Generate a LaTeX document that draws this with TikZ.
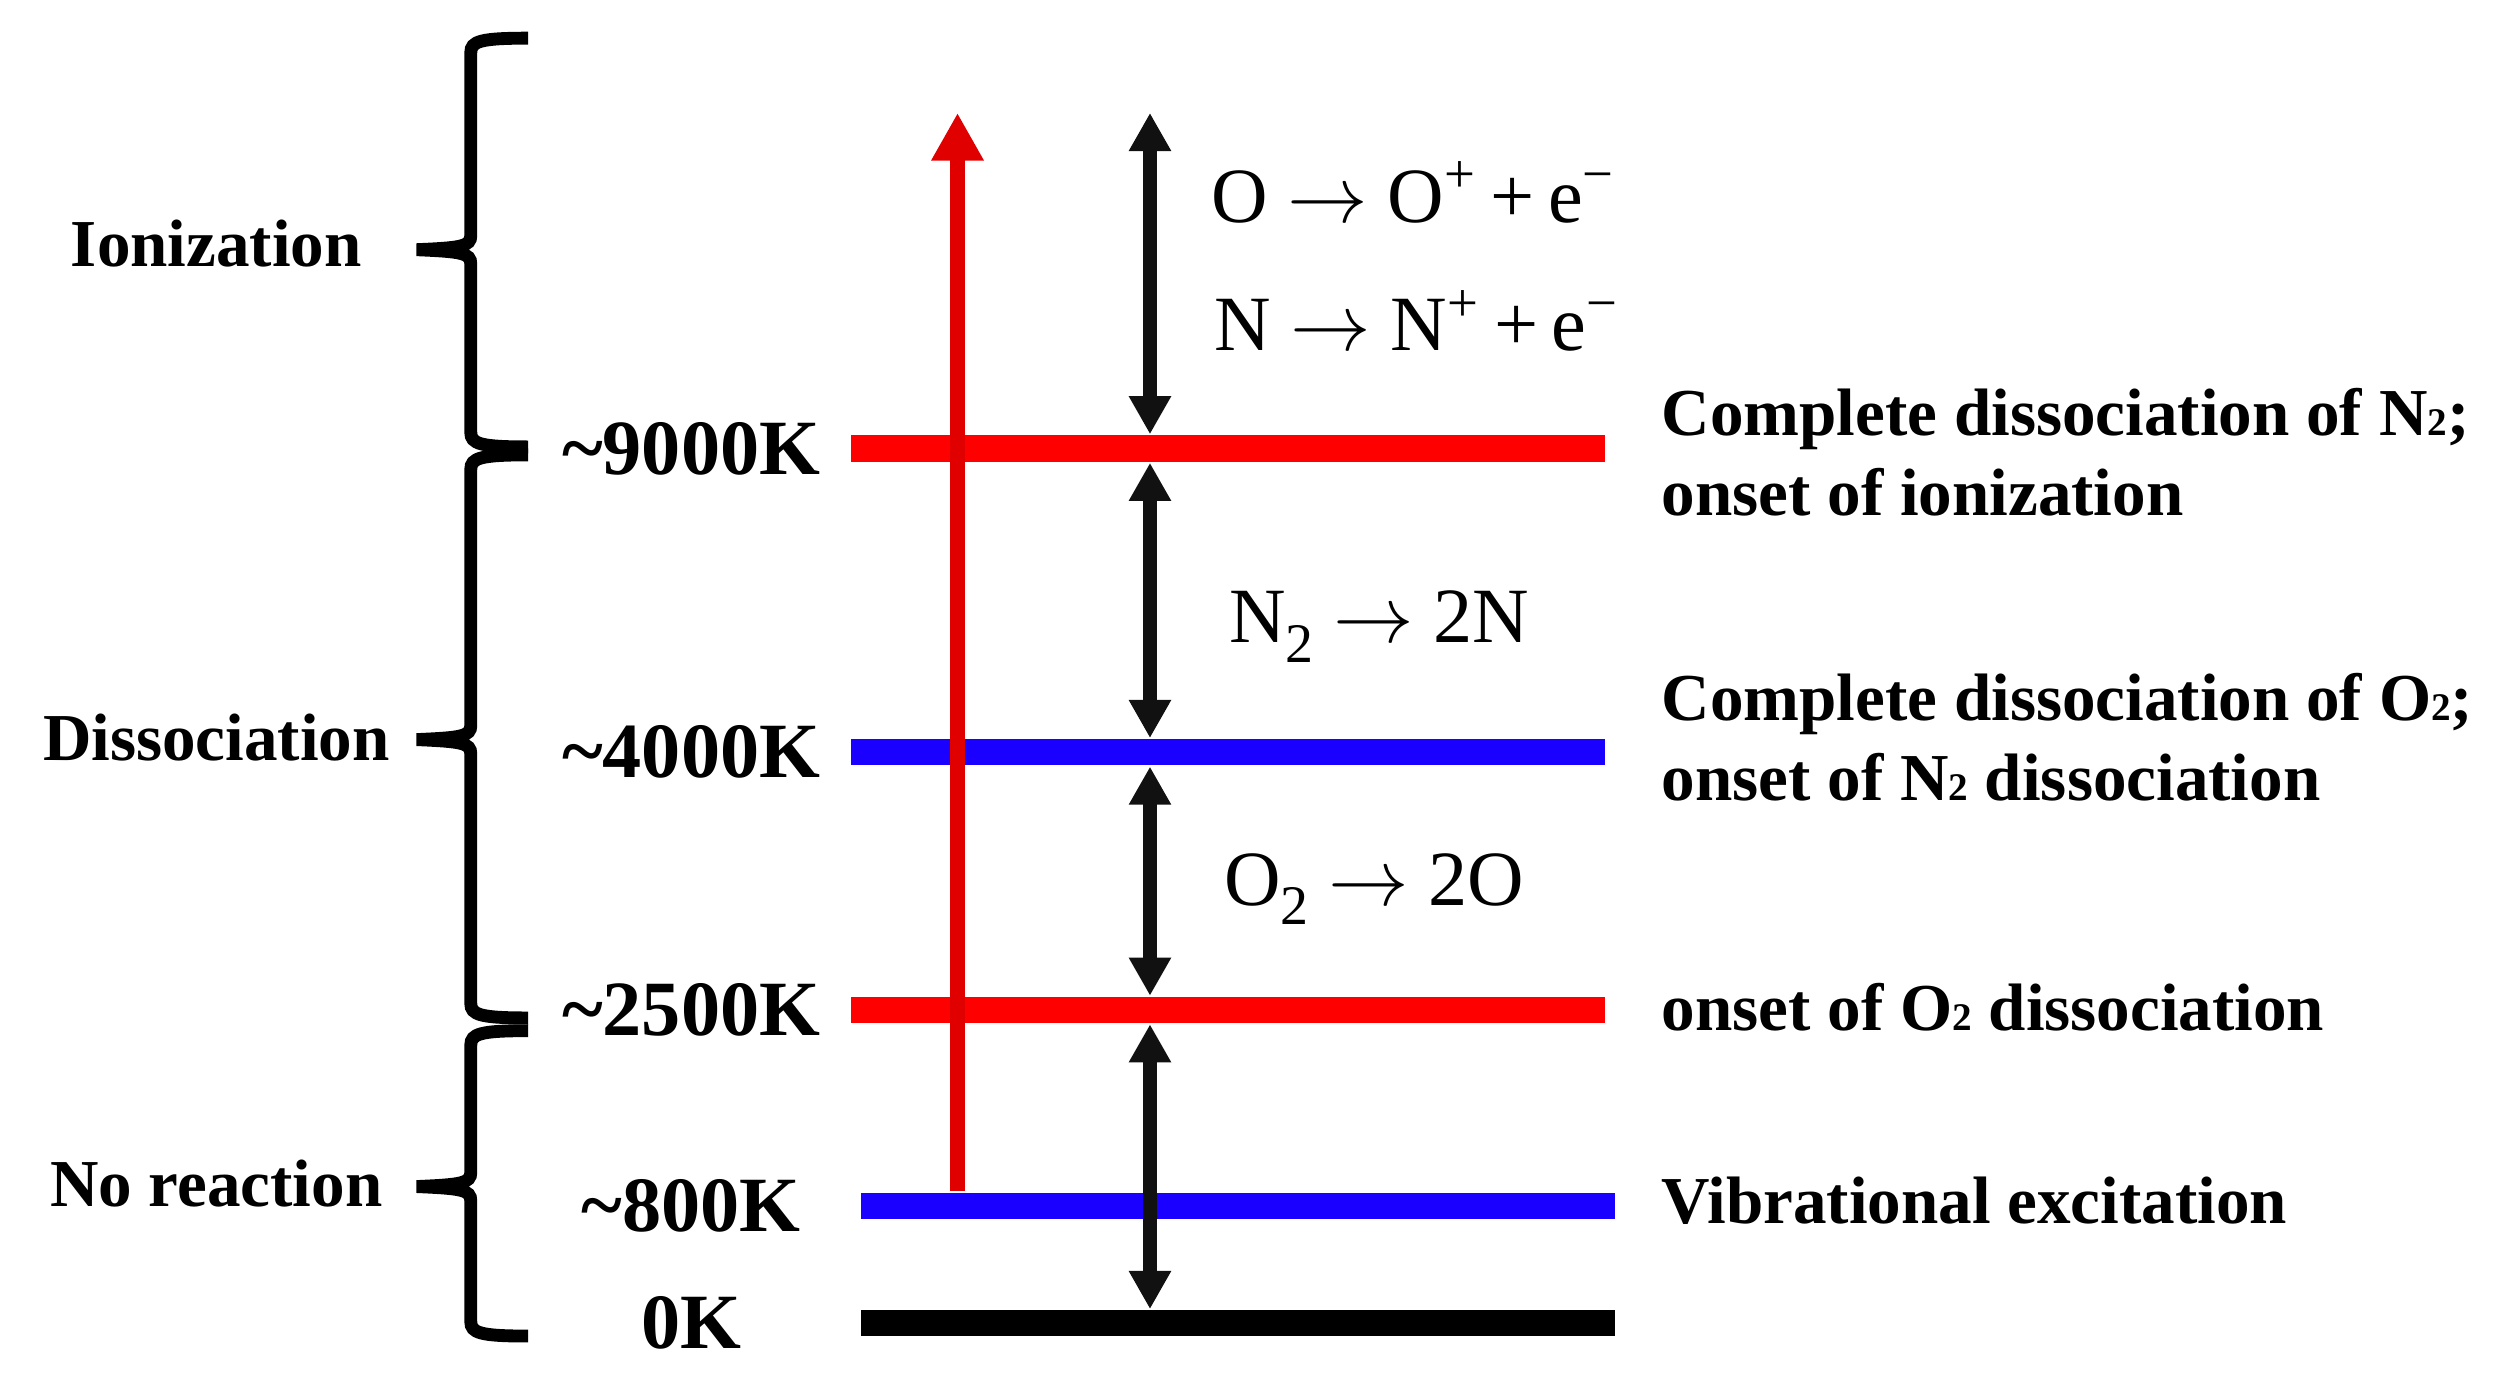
\documentclass[tikz,border=0pt]{standalone}
\usepackage{fontspec}
\setmainfont{Liberation Serif}
\usetikzlibrary{arrows.meta}

\definecolor{lvlred}{RGB}{255,0,0}
\definecolor{lvlblue}{RGB}{25,0,255}
\definecolor{jumpred}{RGB}{224,0,0}
\definecolor{arrowblack}{RGB}{17,17,17}

\newcommand{\lowtwo}{{\fontsize{7}{7}\selectfont 2}}
\newcommand{\rxnto}{$\rightarrow$}
\newcommand{\groupbrace}[3]{%
  \draw[bracepen] (3.32,#1) .. controls (3.02,#1) and (2.96,#1-0.02) .. (2.96,#1-0.09)
    -- (2.96,#2+0.09) .. controls (2.96,#2+0.02) and (2.90,#2+0.012) .. (2.62,#2)
    .. controls (2.90,#2-0.012) and (2.96,#2-0.02) .. (2.96,#2-0.09)
    -- (2.96,#3+0.09) .. controls (2.96,#3+0.02) and (3.02,#3) .. (3.32,#3);
}

\begin{document}
\begin{tikzpicture}[
    bar/.style={inner sep=0, minimum height=0.165cm, minimum width=4.74cm},
    temp/.style={inner sep=0, font=\fontsize{14}{16.8}\selectfont\bfseries},
    grp/.style={inner sep=0, anchor=base, font=\fontsize{12}{14.3}\selectfont\bfseries},
    note/.style={inner sep=0, anchor=base west, align=left, font=\fontsize{12}{14.3}\selectfont\bfseries},
    rxn/.style={inner sep=0, anchor=base west, font=\fontsize{14}{16.8}\selectfont},
    bracepen/.style={line width=2.3pt, line cap=butt},
    dblarrow/.style={draw=arrowblack, line width=2.6pt,
        {Triangle[length=2.4mm,width=2.5mm]}-{Triangle[length=2.4mm,width=2.5mm]}},
    jump/.style={draw=jumpred, line width=2.7pt, -{Triangle[length=3mm,width=3.1mm]}}
]

        \useasboundingbox (0,0) rectangle (15.68,8.72);

        \node[bar, fill=lvlred] (k9000) at (7.72,5.90) {};
        \node[bar, fill=lvlblue] (k4000) at (7.72,3.99) {};
        \node[bar, fill=lvlred] (k2500) at (7.72,2.37) {};
        \node[bar, fill=lvlblue] (k800) at (7.785,1.14) {};
        \node[bar, fill=black] (k0) at (7.785,0.40) {};

        \node[temp] (t9000) at (4.345,5.90) {\textasciitilde9000K};
        \node[temp] (t4000) at (4.345,3.99) {\textasciitilde4000K};
        \node[temp] (t2500) at (4.345,2.37) {\textasciitilde2500K};
        \node[temp] (t800) at (4.345,1.14) {\textasciitilde800K};
        \node[temp] (t0) at (4.345,0.40) {0K};

        \coordinate (redtop) at (6.02,8.01);
        \coordinate (ax) at (7.23,8.01);

        \draw[jump] (k800.north -| redtop) -- (redtop);

        \draw[dblarrow] (ax) -- (k9000.north -| ax);
        \draw[dblarrow] (k9000.south -| ax) -- (k4000.north -| ax);
        \draw[dblarrow] (k4000.south -| ax) -- (k2500.north -| ax);
        \draw[dblarrow] (k2500.south -| ax) -- (k0.north -| ax);

        \node[rxn] (ion1) at (7.61,7.324) {O \rxnto{} O\textsuperscript{+}\,+\,e\textsuperscript{−}};
        \node[rxn] (ion2) at (7.63,6.516) {N \rxnto{} N\textsuperscript{+}\,+\,e\textsuperscript{−}};
        \node[rxn] (dis1) at (7.72,4.68) {N\raisebox{-0.55ex}{\fontsize{10}{10}\selectfont 2} \rxnto{} 2N};
        \node[rxn] (dis2) at (7.69,3.03) {O\raisebox{-0.55ex}{\fontsize{10}{10}\selectfont 2} \rxnto{} 2O};

        \node[note] (n9000) at (10.44,5.482) {Complete dissociation of N\lowtwo;\\onset of ionization};
        \node[note] (n4000) at (10.44,3.685) {Complete dissociation of O\lowtwo;\\onset of N\lowtwo{} dissociation};
        \node[note] (n2500) at (10.44,2.24) {onset of O\lowtwo{} dissociation};
        \node[note] (n800) at (10.44,1.03) {Vibrational excitation};

        \groupbrace{8.48}{7.15}{5.91}
        \groupbrace{5.86}{4.07}{2.32}
        \groupbrace{2.24}{1.26}{0.32}

        \node[grp] (ionz) at (1.36,7.044) {Ionization};
        \node[grp] (diss) at (1.36,3.94) {Dissociation};
        \node[grp] (norx) at (1.36,1.137) {No reaction};
\end{tikzpicture}
\end{document}
